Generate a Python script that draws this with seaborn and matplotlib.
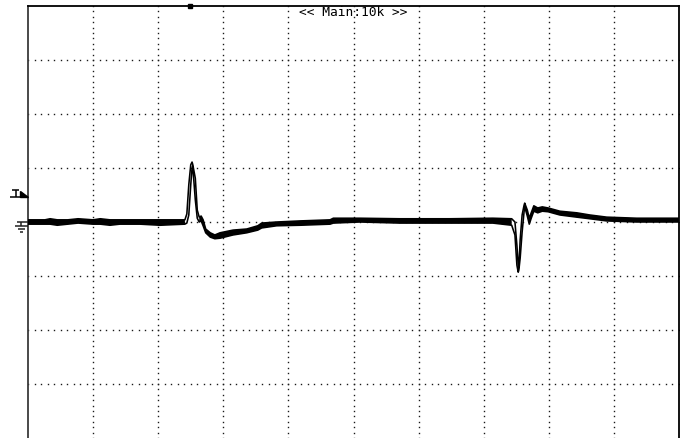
import matplotlib
matplotlib.use("Agg")
import matplotlib.pyplot as plt
from matplotlib.patches import Polygon
import numpy as np
import seaborn as sns

# Screen units: 10 horizontal divisions, 8 vertical divisions (centre = 0)
t_div = [0.00, 0.26, 0.34, 0.45, 0.61, 0.77, 1.00, 1.11, 1.26, 1.41, 1.72, 2.03,
         2.41, 2.44, 2.47, 2.50, 2.52, 2.53, 2.57, 2.60, 2.63, 2.66, 2.69, 2.73,
         2.80, 2.87, 2.95, 3.15, 3.36, 3.53, 3.59, 3.82, 4.18, 4.64, 4.69, 5.10,
         5.71, 6.48, 7.14, 7.43, 7.48, 7.51, 7.53, 7.54, 7.56, 7.59, 7.62, 7.63,
         7.67, 7.70, 7.73, 7.77, 7.83, 7.90, 7.99, 8.17, 8.43, 8.63, 8.89, 9.35,
         9.71, 10.00]

# Peak-detect envelope (max / min of each acquisition bin), in divisions
env_max = [0.04, 0.04, 0.06, 0.04, 0.04, 0.06, 0.04, 0.06, 0.04, 0.04, 0.04, 0.04,
           0.04, 0.15, 0.69, 1.06, 1.11, 1.07, 0.81, 0.22, 0.09, 0.11, 0.04, -0.13,
           -0.20, -0.24, -0.20, -0.15, -0.13, -0.07, -0.02, 0.00, 0.02, 0.04, 0.07, 0.07,
           0.06, 0.06, 0.07, 0.06, 0.00, -0.43, -0.80, -0.85, -0.33, 0.13, 0.31, 0.35,
           0.22, 0.07, 0.17, 0.30, 0.26, 0.28, 0.26, 0.20, 0.17, 0.13, 0.09, 0.07,
           0.07, 0.07]
env_min = [-0.04, -0.04, -0.04, -0.06, -0.04, -0.02, -0.04, -0.04, -0.06, -0.04, -0.04, -0.06,
           -0.04, -0.02, 0.13, 0.69, 1.00, 1.04, 0.41, 0.07, 0.00, 0.02, -0.07, -0.20,
           -0.28, -0.31, -0.30, -0.24, -0.20, -0.15, -0.11, -0.07, -0.06, -0.04, -0.02, 0.00,
           -0.02, -0.02, -0.02, -0.06, -0.24, -0.80, -0.93, -0.89, -0.67, -0.19, 0.19, 0.28,
           0.11, -0.04, 0.07, 0.20, 0.17, 0.20, 0.19, 0.13, 0.09, 0.06, 0.02, 0.00,
           0.00, 0.00]

trigger_level = 0.46     # divisions above centre
trigger_position = 2.49  # divisions from left edge
ground_level = 0.0
header_text = "<< Main:10k >>"

W, H = 688, 438
sns.set_style("white")
plt.rcParams["font.family"] = ["DejaVu Sans Mono", "DejaVu Sans"]

fig = plt.figure(figsize=(W / 100, H / 100), dpi=100)
fig.patch.set_facecolor("white")
ax = fig.add_axes([28 / W, 0.0, 651 / W, 432 / H])
ax.set_xlim(0, 10)
ax.set_ylim(-4, 4)
ax.set_xticks([])
ax.set_yticks([])
for side, sp in ax.spines.items():
    sp.set_color("black")
    sp.set_linewidth(1.3)
ax.spines["left"].set_color("#3a3a3a")
ax.spines["bottom"].set_visible(False)

# graticule: dotted division lines with a dot every 1/10 division
sub_x = np.round(np.arange(0, 10.0001, 0.1), 3)
sub_y = np.round(np.arange(-4, 4.0001, 0.1), 3)
gx, gy = [], []
for v in range(1, 10):
    gx += [v] * len(sub_y)
    gy += list(sub_y)
for h in range(-3, 4):
    gx += list(sub_x)
    gy += [h] * len(sub_x)
ax.plot(gx, gy, linestyle="none", marker="s", markersize=1.0,
        markeredgewidth=0, color="#1a1a1a", zorder=1)

# waveform envelope
t = np.array(t_div)
hi = np.array(env_max)
lo = np.array(env_min)
sns.lineplot(x=t, y=hi, ax=ax, color="black", linewidth=1.15,
             estimator=None, sort=False, legend=False, zorder=3)
sns.lineplot(x=t, y=lo, ax=ax, color="black", linewidth=1.15,
             estimator=None, sort=False, legend=False, zorder=3)
ax.fill_between(t, lo, hi, where=(hi - lo) < 0.125, color="black",
                linewidth=0, zorder=3)

# pixel sizes in division units
px = 10 / 651
py = 8 / 432

# trigger position marker on the top edge
ax.plot([trigger_position], [4], marker="s", markersize=2.4, color="black",
        clip_on=False, zorder=5)

# trigger level marker "T" with wedge
ty = trigger_level
ax.add_patch(Polygon([(-8 * px, ty + 6 * py), (-8 * px, ty), (0, ty)],
                     closed=True, color="black", clip_on=False, zorder=5))
kw = dict(color="black", linewidth=1.1, clip_on=False, solid_capstyle="butt", zorder=5)
ax.plot([-16 * px, -9 * px], [ty + 7 * py, ty + 7 * py], **kw)
ax.plot([-12.5 * px, -12.5 * px], [ty + 7 * py, ty], **kw)
ax.plot([-18 * px, 0], [ty, ty], **kw)

# channel ground reference marker
gl = ground_level
kw_g = dict(color="#222222", linewidth=1.1, clip_on=False, solid_capstyle="butt", zorder=5)
ax.plot([-11 * px, 0], [gl + 0.5 * py, gl + 0.5 * py], **kw_g)
ax.plot([-7 * px, -7 * px], [gl + 0.5 * py, gl - 4 * py], **kw_g)
ax.plot([-13 * px, 0], [gl - 4 * py, gl - 4 * py], **kw_g)
ax.plot([-10 * px, -3 * px], [gl - 7 * py, gl - 7 * py], **kw_g)
ax.plot([-8.5 * px, -5 * px], [gl - 10 * py, gl - 10 * py], **kw_g)

# header readout
fig.text(353 / W, 1 - 12.5 / H, header_text, ha="center", va="center",
         fontsize=9.3, family=["DejaVu Sans Mono"], color="black")

fig.savefig("out.png", dpi=100, facecolor="white")
